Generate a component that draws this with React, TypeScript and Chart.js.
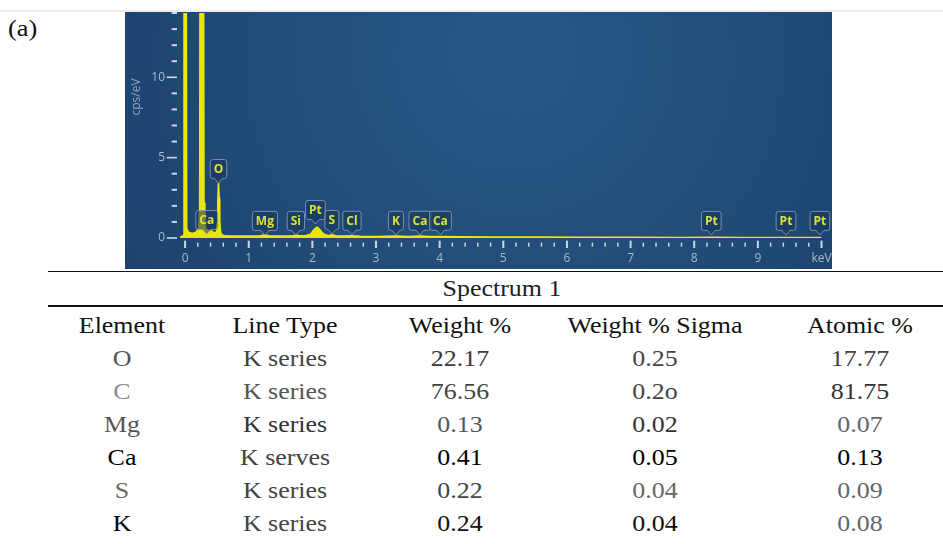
import React, { useEffect, useRef } from 'react';
import { Chart, registerables } from 'chart.js';

Chart.register(...registerables);

// ---- Spectrum data (keV, cps/eV) ----
const energyKeV = [
  -0.08, -0.03, -0.018, 0.014, 0.026, 0.05, 0.09, 0.13, 0.17, 0.195, 0.215, 0.228, 0.238, 0.288,
  0.298, 0.312, 0.33, 0.36, 0.4, 0.44, 0.47, 0.49, 0.503, 0.513, 0.521, 0.528, 0.536, 0.546,
  0.56, 0.58, 0.62, 0.75, 0.9, 1.05, 1.18, 1.25, 1.32, 1.45, 1.6, 1.7, 1.74, 1.8, 1.9, 1.97,
  2.02, 2.07, 2.1, 2.15, 2.2, 2.26, 2.31, 2.37, 2.5, 2.62, 2.75, 3.0, 3.31, 3.5, 3.69, 3.85,
  4.01, 4.3, 4.8, 5.5, 6.2, 7.0, 7.8, 8.27, 8.7, 9.44, 10.0,
];
const countsCpsPerEv = [
  0.05, 0.15, 30, 30, 0.6, 0.38, 0.32, 0.3, 0.36, 0.5, 0.62, 1.8, 30, 30,
  2.2, 0.75, 0.55, 0.48, 0.45, 0.38, 0.3, 0.38, 0.9, 2.2, 3.3, 3.42, 2.5, 1.0,
  0.35, 0.2, 0.15, 0.13, 0.13, 0.13, 0.14, 0.2, 0.14, 0.13, 0.13, 0.15, 0.19, 0.15, 0.16, 0.24,
  0.5, 0.68, 0.6, 0.36, 0.2, 0.16, 0.2, 0.14, 0.12, 0.14, 0.11, 0.1, 0.12, 0.09, 0.12, 0.09,
  0.1, 0.08, 0.07, 0.06, 0.05, 0.045, 0.04, 0.05, 0.03, 0.04, 0.03,
];

// ---- Peak labels ----
const peakLabelNames = ['Ca', 'O', 'Mg', 'Si', 'Pt', 'S', 'Cl', 'K', 'Ca', 'Ca', 'Pt', 'Pt', 'Pt'];
const peakLabelEnergies = [0.341, 0.525, 1.254, 1.74, 2.048, 2.307, 2.622, 3.313, 3.691, 4.012, 8.268, 9.442, 9.975];
const peakLabelHeights = [0.25, 3.42, 0.19, 0.19, 0.87, 0.25, 0.2, 0.2, 0.2, 0.2, 0.19, 0.19, 0.19];

// ---- Axes ----
const xMin = -0.08;
const xMax = 10;
const yMin = 0;
const yMax = 14;
const xTickLabels = ['0', '1', '2', '3', '4', '5', '6', '7', '8', '9', 'keV'];
const yLabelledTicks = [0, 5, 10];
const yAxisTitle = 'cps/eV';

// ---- Table ----
const tableTitle = 'Spectrum 1';
const tableHeaders = ['Element', 'Line Type', 'Weight %', 'Weight % Sigma', 'Atomic %'];
const elements = ['O', 'C', 'Mg', 'Ca', 'S', 'K'];
const lineTypes = ['K series', 'K series', 'K series', 'K serves', 'K series', 'K series'];
const weightPct = ['22.17', '76.56', '0.13', '0.41', '0.22', '0.24'];
const weightSigma = ['0.25', '0.2o', '0.02', '0.05', '0.04', '0.04'];
const atomicPct = ['17.77', '81.75', '0.07', '0.13', '0.09', '0.08'];

// styles
const cellColors = [
  ['#555', '#444', '#3a3a3a', '#444', '#444'],
  ['#8a8a8a', '#555', '#444', '#444', '#333'],
  ['#555', '#333', '#555', '#333', '#666'],
  ['#000', '#444', '#000', '#000', '#000'],
  ['#666', '#444', '#444', '#666', '#666'],
  ['#000', '#444', '#111', '#111', '#666'],
];
const colCenters = [122, 285, 460, 655, 860];
const headerBaseline = 333;
const rowBaseline0 = 366;
const rowStep = 33;
const titleBaseline = 296;
const titleCenter = 502;

const serif = '"Liberation Serif", "Times New Roman", serif';
const axisFont = '"Open Sans", "Noto Sans", sans-serif';

const panelBackground = {
  id: 'panelBackground',
  beforeDraw(chart: any) {
    const { ctx, width, height } = chart;
    ctx.save();
    const g = ctx.createRadialGradient(width * 0.55, height * 0.15, 10, width * 0.55, height * 0.2, width * 0.72);
    g.addColorStop(0, '#285786');
    g.addColorStop(1, '#1b3f6a');
    ctx.fillStyle = g;
    ctx.fillRect(0, 0, width, height);
    ctx.restore();
  },
};

const axisMarks = {
  id: 'axisMarks',
  beforeDatasetsDraw(chart: any) {
    const { ctx, chartArea, scales } = chart;
    const x = scales.x;
    const y = scales.y;
    ctx.save();
    ctx.strokeStyle = '#cdd8e3';
    for (const t of y.ticks) {
      const py = y.getPixelForValue(t.value);
      const major = yLabelledTicks.includes(Math.round(t.value));
      ctx.lineWidth = major ? 1.6 : 2;
      ctx.beginPath();
      ctx.moveTo(chartArea.left - (major ? 13.3 : 8.3), py);
      ctx.lineTo(chartArea.left - 3, py);
      ctx.stroke();
    }
    for (const t of x.ticks) {
      const px = x.getPixelForValue(t.value);
      const major = Math.abs(t.value - Math.round(t.value)) < 1e-6;
      ctx.lineWidth = major ? 2 : 1.5;
      ctx.beginPath();
      ctx.moveTo(px, chartArea.bottom + (major ? 2.7 : 4.7));
      ctx.lineTo(px, chartArea.bottom + (major ? 10 : 8.7));
      ctx.stroke();
    }
    ctx.translate(12, 85);
    ctx.rotate(-Math.PI / 2);
    ctx.font = `12px ${axisFont}`;
    ctx.fillStyle = '#8ea4bc';
    ctx.textAlign = 'center';
    ctx.textBaseline = 'middle';
    ctx.fillText(yAxisTitle, 0, 0);
    ctx.restore();
  },
};

const peakLabels = {
  id: 'peakLabels',
  afterDatasetsDraw(chart: any) {
    const { ctx, scales } = chart;
    const x = scales.x;
    const y = scales.y;
    ctx.save();
    ctx.font = `bold 12px ${axisFont}`;
    peakLabelNames.forEach((name, i) => {
      const px = x.getPixelForValue(peakLabelEnergies[i]);
      const tip = y.getPixelForValue(peakLabelHeights[i]);
      const tw = ctx.measureText(name).width;
      const w = Math.max(14, tw + 7);
      const h = 19;
      const ph = 4.5;
      const r = 2.5;
      const bottom = tip - ph;
      const top = bottom - h;
      const left = px - w / 2;
      const right = px + w / 2;
      ctx.beginPath();
      ctx.moveTo(left + r, top);
      ctx.lineTo(right - r, top);
      ctx.quadraticCurveTo(right, top, right, top + r);
      ctx.lineTo(right, bottom - r);
      ctx.quadraticCurveTo(right, bottom, right - r, bottom);
      ctx.lineTo(px + 4, bottom);
      ctx.lineTo(px, tip);
      ctx.lineTo(px - 4, bottom);
      ctx.lineTo(left + r, bottom);
      ctx.quadraticCurveTo(left, bottom, left, bottom - r);
      ctx.lineTo(left, top + r);
      ctx.quadraticCurveTo(left, top, left + r, top);
      ctx.closePath();
      ctx.fillStyle = 'rgba(24,52,88,0.55)';
      ctx.fill();
      ctx.strokeStyle = 'rgba(130,158,188,0.85)';
      ctx.lineWidth = 1;
      ctx.stroke();
      ctx.fillStyle = '#d9e236';
      ctx.textAlign = 'center';
      ctx.textBaseline = 'middle';
      ctx.fillText(name, px, top + h / 2 + 0.5);
    });
    ctx.restore();
  },
};

function SpectrumChart() {
  const ref = useRef<HTMLCanvasElement | null>(null);
  useEffect(() => {
    if (!ref.current) return;
    const xTicks: number[] = [];
    for (let i = 0; i <= 50; i++) xTicks.push(i / 5);
    const yTicks: number[] = [];
    for (let v = yMin; v <= yMax; v++) yTicks.push(v);
    const chart = new Chart(ref.current, {
      type: 'line',
      data: {
        datasets: [
          {
            data: energyKeV.map((e, i) => ({ x: e, y: countsCpsPerEv[i] })),
            borderColor: '#ecec00',
            backgroundColor: '#e6e600',
            borderWidth: 1.4,
            fill: 'origin',
            pointRadius: 0,
            tension: 0,
          },
        ],
      },
      options: {
        animation: false,
        responsive: false,
        events: [],
        layout: { padding: { left: 0, right: 10.5, top: 1, bottom: 0 } },
        plugins: { legend: { display: false }, tooltip: { enabled: false } },
        scales: {
          x: {
            type: 'linear',
            min: xMin,
            max: xMax,
            afterBuildTicks: (s: any) => {
              s.ticks = xTicks.map((v) => ({ value: v }));
            },
            afterFit: (s: any) => {
              s.height = 31;
              s.paddingLeft = 0;
              s.paddingRight = 0;
            },
            grid: { display: false, drawTicks: false },
            border: { display: false },
            ticks: {
              autoSkip: false,
              maxRotation: 0,
              padding: 13,
              color: '#a9b9cb',
              font: { family: axisFont, size: 12 },
              callback: (v: any) => {
                const r = Math.round(v);
                return Math.abs(v - r) < 1e-6 ? xTickLabels[r] ?? '' : '';
              },
            },
          },
          y: {
            type: 'linear',
            min: yMin,
            max: yMax,
            afterBuildTicks: (s: any) => {
              s.ticks = yTicks.map((v) => ({ value: v }));
            },
            afterFit: (s: any) => {
              s.width = 55;
              s.paddingTop = 0;
              s.paddingBottom = 0;
            },
            grid: { display: false, drawTicks: false },
            border: { display: false },
            ticks: {
              autoSkip: false,
              padding: 15,
              color: '#a9b9cb',
              font: { family: axisFont, size: 12 },
              callback: (v: any) => (yLabelledTicks.includes(Math.round(v)) && Math.abs(v - Math.round(v)) < 1e-6 ? String(Math.round(v)) : ''),
            },
          },
        },
      } as any,
      plugins: [panelBackground, axisMarks, peakLabels],
    });
    return () => chart.destroy();
  }, []);
  return <canvas ref={ref} width={707} height={257} style={{ position: 'absolute', left: 125, top: 12, width: 707, height: 257, display: 'block' }} />;
}

function Cell({ text, cx, baseline, color }: { text: string; cx: number; baseline: number; color: string }) {
  return (
    <div
      style={{
        position: 'absolute',
        left: cx - 150,
        width: 300,
        top: baseline - 23.1,
        height: 30,
        lineHeight: '30px',
        fontSize: 24,
        fontFamily: serif,
        textAlign: 'center',
        color,
        whiteSpace: 'nowrap',
        transform: 'scaleX(1.08)',
        transformOrigin: 'center',
      }}
    >
      {text}
    </div>
  );
}

export default function App() {
  const rows = elements.map((el, i) => [el, lineTypes[i], weightPct[i], weightSigma[i], atomicPct[i]]);
  return (
    <div style={{ position: 'fixed', left: 0, top: 0, width: 943, height: 544, background: '#fff', overflow: 'hidden' }}>
      <div style={{ position: 'absolute', left: 0, top: 10, width: 943, height: 2, background: '#ececec' }} />
      <div
        style={{
          position: 'absolute',
          left: 8,
          top: 17,
          fontSize: 23,
          lineHeight: '23px',
          fontFamily: serif,
          color: '#111',
          transform: 'scaleX(1.15)',
          transformOrigin: 'left',
        }}
      >
        (a)
      </div>
      <SpectrumChart />
      <div style={{ position: 'absolute', left: 48, top: 271, width: 895, height: 1, background: '#111' }} />
      <div style={{ position: 'absolute', left: 48, top: 305, width: 895, height: 2, background: '#111' }} />
      <Cell text={tableTitle} cx={titleCenter} baseline={titleBaseline} color="#222" />
      {tableHeaders.map((h, j) => (
        <Cell key={'h' + j} text={h} cx={colCenters[j]} baseline={headerBaseline} color="#111" />
      ))}
      {rows.map((r, i) =>
        r.map((t, j) => (
          <Cell key={i + '-' + j} text={t} cx={colCenters[j]} baseline={rowBaseline0 + i * rowStep} color={cellColors[i][j]} />
        ))
      )}
    </div>
  );
}
